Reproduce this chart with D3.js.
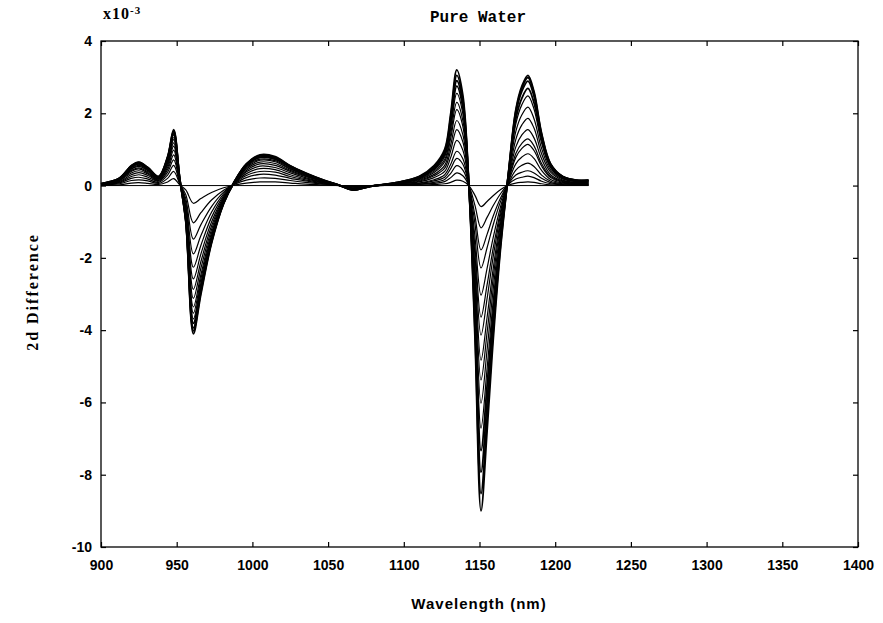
<!DOCTYPE html>
<html><head><meta charset="utf-8">
<script src="https://cdn.jsdelivr.net/npm/d3@7"></script>
<style>body{margin:0;background:#fff}</style>
</head><body><svg id="c" width="883" height="623"></svg>
<script>
const wavelengths = [900,912,920,925,931,938,944,948,952,956,961,966,973,981,988,996,1005,1015,1025,1035,1047,1058,1066,1078,1095,1110,1120,1127,1131,1135,1139,1143,1147,1151,1155,1159,1164,1169,1174,1178,1182,1186,1191,1197,1205,1214,1222];

const curve1 = [0.01,0.02,0.07,0.08,0.06,0.03,0.1,0.19,0.02,-0.12,-0.49,-0.36,-0.19,-0.06,0.01,0.07,0.1,0.1,0.07,0.04,0.02,0,-0.01,0,0.01, 0.01,0.03,0.05,0.09,0.15,0.12, 0, -0.27,-0.58,-0.44,-0.28,-0.11, 0.01,0.07,0.09,0.1,0.09,0.05,0.02,0.01,0.01,0.01];
const curve2 = [0.01,0.05,0.14,0.16,0.13,0.06,0.2,0.39,0.05,-0.25,-1.03,-0.75,-0.4,-0.13,0.03,0.15,0.21,0.2,0.14,0.09,0.04,0,-0.03,-0.01,0.02, 0.03,0.06,0.11,0.22,0.35,0.27, 0, -0.55,-1.17,-0.88,-0.56,-0.22, 0.03,0.18,0.23,0.26,0.22,0.12,0.05,0.02,0.01,0.01];
const curve3 = [0.02,0.07,0.2,0.23,0.18,0.09,0.29,0.56,0.07,-0.36,-1.48,-1.08,-0.58,-0.18,0.04,0.22,0.31,0.29,0.2,0.13,0.05,0,-0.04,-0.01,0.03, 0.04,0.09,0.17,0.34,0.55,0.43, 0, -0.83,-1.78,-1.35,-0.85,-0.34, 0.04,0.29,0.37,0.41,0.35,0.2,0.08,0.03,0.02,0.02];
const curve4 = [0.02,0.09,0.25,0.3,0.23,0.12,0.37,0.71,0.09,-0.46,-1.89,-1.38,-0.74,-0.23,0.05,0.28,0.39,0.37,0.25,0.16,0.07,0,-0.06,-0.01,0.04, 0.06,0.13,0.23,0.47,0.75,0.59, 0, -1.06,-2.28,-1.72,-1.09,-0.43, 0.06,0.43,0.56,0.62,0.53,0.29,0.12,0.05,0.03,0.03];
const curve5 = [0.03,0.11,0.3,0.36,0.28,0.14,0.44,0.85,0.11,-0.55,-2.26,-1.65,-0.88,-0.28,0.06,0.33,0.47,0.44,0.3,0.19,0.08,0,-0.07,-0.01,0.04, 0.07,0.16,0.3,0.59,0.95,0.74, 0, -1.41,-3.03,-2.29,-1.45,-0.57, 0.09,0.6,0.79,0.88,0.75,0.42,0.17,0.07,0.04,0.04];
const curve6 = [0.03,0.13,0.35,0.41,0.32,0.16,0.5,0.98,0.13,-0.63,-2.58,-1.89,-1.01,-0.32,0.06,0.38,0.54,0.5,0.35,0.22,0.09,0,-0.08,-0.01,0.05, 0.1,0.22,0.39,0.78,1.25,0.98, 0, -1.7,-3.64,-2.75,-1.74,-0.69, 0.11,0.78,1.03,1.14,0.97,0.54,0.22,0.09,0.06,0.06];
const curve7 = [0.04,0.14,0.39,0.46,0.35,0.18,0.56,1.09,0.14,-0.7,-2.87,-2.1,-1.12,-0.35,0.07,0.42,0.6,0.56,0.39,0.25,0.11,0,-0.08,-0.01,0.06, 0.12,0.27,0.48,0.97,1.55,1.21, 0, -1.93,-4.14,-3.13,-1.98,-0.78, 0.13,0.89,1.17,1.29,1.1,0.61,0.25,0.11,0.06,0.06];
const curve8 = [0.04,0.15,0.42,0.49,0.38,0.19,0.61,1.18,0.15,-0.76,-3.12,-2.28,-1.22,-0.38,0.08,0.46,0.65,0.61,0.42,0.27,0.11,0,-0.09,-0.02,0.06, 0.14,0.31,0.56,1.13,1.8,1.41, 0, -2.25,-4.83,-3.65,-2.31,-0.91, 0.15,1.07,1.4,1.55,1.32,0.74,0.3,0.13,0.08,0.08];
const curve9 = [0.04,0.16,0.45,0.53,0.41,0.21,0.66,1.27,0.16,-0.82,-3.36,-2.46,-1.31,-0.41,0.08,0.49,0.7,0.66,0.45,0.29,0.12,0,-0.1,-0.02,0.07, 0.16,0.36,0.66,1.31,2.1,1.64, 0, -2.51,-5.38,-4.07,-2.57,-1.02, 0.18,1.28,1.68,1.86,1.59,0.88,0.37,0.15,0.09,0.09];
const curve10 = [0.04,0.17,0.47,0.56,0.43,0.22,0.69,1.33,0.17,-0.86,-3.53,-2.58,-1.38,-0.43,0.09,0.52,0.73,0.69,0.47,0.3,0.13,0,-0.1,-0.02,0.07, 0.18,0.4,0.72,1.44,2.3,1.8, 0, -2.81,-6.02,-4.55,-2.88,-1.14, 0.21,1.5,1.96,2.17,1.85,1.03,0.43,0.18,0.11,0.11];
const curve11 = [0.05,0.18,0.5,0.59,0.45,0.23,0.72,1.4,0.18,-0.9,-3.69,-2.7,-1.44,-0.45,0.09,0.54,0.77,0.72,0.5,0.32,0.14,0,-0.11,-0.02,0.07, 0.2,0.44,0.8,1.59,2.55,1.99, 0, -3.13,-6.71,-5.07,-3.21,-1.27, 0.24,1.71,2.24,2.48,2.12,1.18,0.49,0.2,0.12,0.12];
const curve12 = [0.05,0.19,0.51,0.6,0.47,0.23,0.74,1.44,0.19,-0.93,-3.81,-2.79,-1.49,-0.47,0.09,0.56,0.79,0.74,0.51,0.33,0.14,0,-0.11,-0.02,0.07, 0.21,0.47,0.86,1.72,2.75,2.15, 0, -3.42,-7.33,-5.54,-3.5,-1.38, 0.26,1.85,2.42,2.69,2.29,1.28,0.53,0.22,0.13,0.13];
const curve13 = [0.05,0.19,0.53,0.62,0.48,0.24,0.77,1.49,0.19,-0.96,-3.94,-2.88,-1.54,-0.48,0.1,0.58,0.82,0.77,0.53,0.34,0.14,0,-0.12,-0.02,0.08, 0.23,0.5,0.91,1.81,2.9,2.27, 0, -3.7,-7.93,-5.99,-3.79,-1.5, 0.28,1.99,2.61,2.89,2.47,1.38,0.57,0.24,0.14,0.14];
const curve14 = [0.05,0.2,0.54,0.64,0.49,0.25,0.78,1.52,0.2,-0.98,-4.02,-2.94,-1.57,-0.49,0.1,0.59,0.83,0.78,0.54,0.34,0.15,0,-0.12,-0.02,0.08, 0.24,0.52,0.95,1.91,3.05,2.38, 0, -3.98,-8.52,-6.44,-4.07,-1.61, 0.29,2.06,2.7,2.99,2.55,1.42,0.59,0.25,0.15,0.15];
const curve15 = [0.05,0.2,0.55,0.65,0.5,0.25,0.8,1.55,0.2,-1.0,-4.1,-3.0,-1.6,-0.5,0.1,0.6,0.85,0.8,0.55,0.35,0.15,0,-0.12,-0.02,0.08, 0.25,0.55,1.0,2.0,3.2,2.5, 0, -4.2,-9.0,-6.8,-4.3,-1.7, 0.3,2.1,2.75,3.05,2.6,1.45,0.6,0.25,0.15,0.15];

const curves = [curve1,curve2,curve3,curve4,curve5,curve6,curve7,curve8,curve9,curve10,curve11,curve12,curve13,curve14,curve15];

const xTicks = [900,950,1000,1050,1100,1150,1200,1250,1300,1350,1400];
const yTicks = [4,2,0,-2,-4,-6,-8,-10];
const titleText = "Pure Water";
const xLabelText = "Wavelength (nm)";
const yLabelText = "2d Difference";

const svg = d3.select("#c");
const L = 101, R = 858, T = 41, B = 547;
const x = d3.scaleLinear().domain([900,1400]).range([L,R]);
const y = d3.scaleLinear().domain([-10,4]).range([B,T]);

const line = d3.line()
  .x((d,i)=>x(wavelengths[i]))
  .y(d=>y(d))
  .curve(d3.curveCatmullRom.alpha(0.5));

const g = svg.append("g");
g.append("path")
  .attr("d", d3.line()([[x(wavelengths[0]), y(0)], [x(wavelengths[wavelengths.length-1]), y(0)]]))
  .attr("stroke","#000").attr("stroke-width",1).attr("fill","none");

g.selectAll("path.curve").data(curves).join("path")
  .attr("class","curve")
  .attr("d", line)
  .attr("fill","none")
  .attr("stroke","#000")
  .attr("stroke-width", (d,i)=> i>=11 ? 1.8 : 1.2);

svg.append("rect").attr("x",L).attr("y",T).attr("width",R-L).attr("height",B-T)
  .attr("fill","none").attr("stroke","#000").attr("stroke-width",1.3);

const fontTick = "'Liberation Sans', Arial, sans-serif";
const xb = svg.append("g").attr("transform",`translate(0,${B})`)
  .call(d3.axisBottom(x).tickValues(xTicks).tickSizeInner(-5).tickSizeOuter(0).tickPadding(13).tickFormat(d3.format("d")));
const xt = svg.append("g").attr("transform",`translate(0,${T})`)
  .call(d3.axisTop(x).tickValues(xTicks).tickSizeInner(-5).tickSizeOuter(0).tickFormat(""));
const yl = svg.append("g").attr("transform",`translate(${L},0)`)
  .call(d3.axisLeft(y).tickValues(yTicks).tickSizeInner(-5).tickSizeOuter(0).tickPadding(9).tickFormat(d=> d<0 ? "-"+Math.abs(d) : String(d)));
const yr = svg.append("g").attr("transform",`translate(${R},0)`)
  .call(d3.axisRight(y).tickValues(yTicks).tickSizeInner(-5).tickSizeOuter(0).tickFormat(""));
[xb,xt,yl,yr].forEach(a=>{
  a.select(".domain").remove();
  a.selectAll("line").attr("stroke","#000").attr("stroke-width",1.2);
  a.selectAll("text").attr("fill","#000").style("font-family",fontTick).style("font-size","14px").style("font-weight","bold");
});

const ex = svg.append("text").attr("x",103).attr("y",19)
  .style("font-family","'Liberation Serif', serif").style("font-size","16px").style("font-weight","bold").style("letter-spacing","1px");
ex.append("tspan").text("x10");
ex.append("tspan").attr("dy",-5).style("font-size","11px").text("-3");

svg.append("text").attr("x",478).attr("y",22).attr("text-anchor","middle")
  .style("font-family","'Liberation Mono', monospace").style("font-size","16px").style("font-weight","bold")
  .text(titleText);

svg.append("text").attr("x",479).attr("y",609).attr("text-anchor","middle")
  .style("font-family",fontTick).style("font-size","15px").style("font-weight","bold").style("letter-spacing","1px")
  .text(xLabelText);

svg.append("text").attr("transform","translate(38,292) rotate(-90)").attr("text-anchor","middle")
  .style("font-family","'Liberation Serif', serif").style("font-size","16px").style("font-weight","bold").style("letter-spacing","2px")
  .text(yLabelText);
</script>
</body></html>
